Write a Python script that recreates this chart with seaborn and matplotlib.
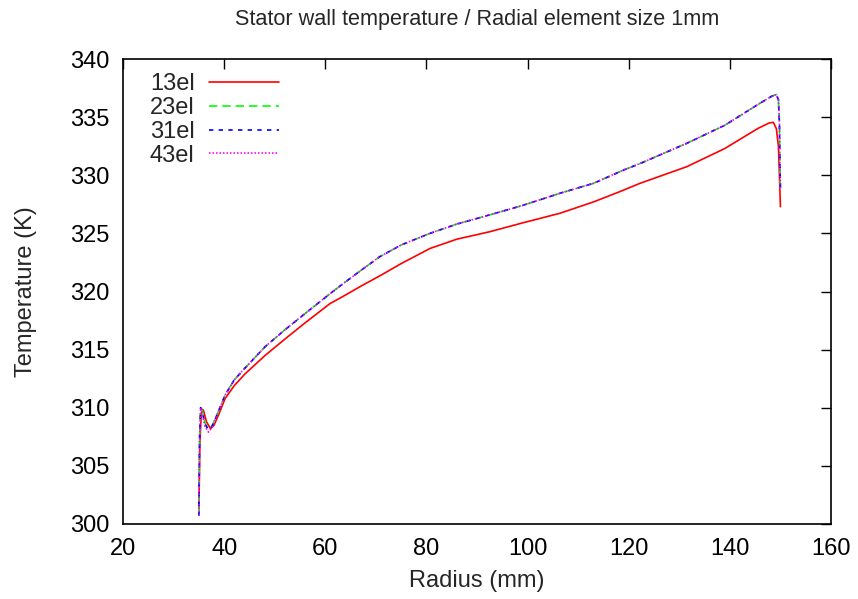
import matplotlib
matplotlib.use("Agg")
import matplotlib.pyplot as plt
import seaborn as sns
import numpy as np
import pandas as pd

# ---- data ----
radius_13 = [35.0, 35.2, 35.5, 35.9, 36.5, 37.3, 38.0, 39.0, 40.2, 42.0, 44.1, 48.1,
             52.0, 56.0, 60.9, 63.6, 67.0, 70.8, 75.0, 80.7, 86.0, 92.6, 99.0, 106.4,
             113.0, 118.3, 122.2, 131.5, 139.0, 145.6, 147.8, 148.6, 149.2, 149.6,
             149.8, 150.0]
temp_13 = [301.0, 307.0, 309.6, 309.8, 308.8, 308.2, 308.5, 309.5, 310.8, 311.9, 312.9,
           314.5, 315.9, 317.3, 318.95, 319.6, 320.45, 321.35, 322.4, 323.7, 324.5,
           325.15, 325.9, 326.73, 327.7, 328.6, 329.3, 330.74, 332.3, 334.04, 334.5,
           334.55, 334.0, 332.5, 330.0, 327.3]

radius_fine = [35.0, 35.15, 35.35, 35.6, 36.2, 36.9, 37.6, 38.5, 40.2, 42.0, 44.1, 48.1,
               52.0, 56.0, 60.9, 63.6, 67.0, 70.8, 75.0, 80.7, 86.0, 92.6, 99.0, 106.4,
               113.0, 119.0, 122.2, 131.5, 139.0, 145.6, 148.3, 149.2, 149.6, 149.8,
               149.9, 150.0]
temp_23 = [300.8, 307.6, 310.0, 309.9, 308.7, 308.15, 308.45, 309.3, 311.1, 312.4, 313.4,
           315.25, 316.7, 318.1, 319.8, 320.7, 321.8, 323.0, 324.0, 325.0, 325.8, 326.6,
           327.4, 328.45, 329.3, 330.45, 331.0, 332.75, 334.3, 336.1, 336.8, 336.95,
           336.5, 334.5, 331.0, 328.8]
temp_31 = [300.7, 307.5, 310.0, 309.8, 308.6, 308.1, 308.4, 309.3, 311.1, 312.4, 313.4,
           315.25, 316.7, 318.1, 319.8, 320.7, 321.8, 323.0, 324.0, 325.0, 325.8, 326.6,
           327.4, 328.45, 329.3, 330.45, 331.0, 332.75, 334.3, 336.1, 336.8, 336.95,
           336.5, 334.5, 331.0, 328.8]
temp_43 = [300.7, 307.4, 310.0, 309.7, 308.4, 307.9, 308.3, 309.3, 311.1, 312.4, 313.4,
           315.25, 316.7, 318.1, 319.8, 320.7, 321.8, 323.0, 324.0, 325.0, 325.8, 326.6,
           327.4, 328.45, 329.3, 330.45, 331.0, 332.75, 334.3, 336.1, 336.8, 336.95,
           336.5, 334.5, 331.0, 328.8]

labels = ["13el", "23el", "31el", "43el"]
x_ticks = [20, 40, 60, 80, 100, 120, 140, 160]
y_ticks = [300, 305, 310, 315, 320, 325, 330, 335, 340]

# ---- style ----
sns.set_style("white")
plt.rcParams["font.family"] = ["Liberation Sans", "DejaVu Sans"]
FS = 17

fig = plt.figure(figsize=(8.58, 5.99), dpi=100)
ax = fig.add_axes([123 / 858, 1 - 524 / 599, 708 / 858, 465 / 599])

series = [
    (radius_13, temp_13, labels[0], "#ff0000", "-"),
    (radius_fine, temp_23, labels[1], "#00ff00", (0, (5.0, 3.0))),
    (radius_fine, temp_31, labels[2], "#0000ff", (0, (2.6, 3.2))),
    (radius_fine, temp_43, labels[3], "#ff00ff", (0, (0.9, 1.2))),
]
for xs, ys, lab, col, ls in series:
    df = pd.DataFrame({"r": xs, "t": ys})
    sns.lineplot(data=df, x="r", y="t", ax=ax, color=col, linestyle=ls,
                 linewidth=1.2, label=lab, estimator=None, sort=False)

ax.set_xlim(20, 160)
ax.set_ylim(300, 340)
ax.set_xticks(x_ticks)
ax.set_yticks(y_ticks)
ax.tick_params(direction="in", length=7, width=1, top=True, right=True,
               labelsize=FS, colors="black", pad=10)
for s in ax.spines.values():
    s.set_color("black")
    s.set_linewidth(1.2)

ax.set_xlabel("Radius (mm)", fontsize=FS)
ax.set_ylabel("Temperature (K)", fontsize=FS)
ax.xaxis.set_label_coords(0.5, (524 - 570) / 465)
ax.yaxis.set_label_coords((37 - 123) / 708, 0.5)
fig.text(477 / 858, 1 - 20 / 599, "Stator wall temperature / Radial element size 1mm",
         fontsize=15.6, ha="center", va="center")

leg = ax.legend(loc="upper left", frameon=False, markerfirst=False, fontsize=FS,
                handlelength=2.95, handletextpad=0.62, labelspacing=0.08,
                borderaxespad=0.0, borderpad=0.0,
                bbox_to_anchor=((150 - 123) / 708, (524 - 73) / 465))

fig.savefig("out.png", dpi=100)
